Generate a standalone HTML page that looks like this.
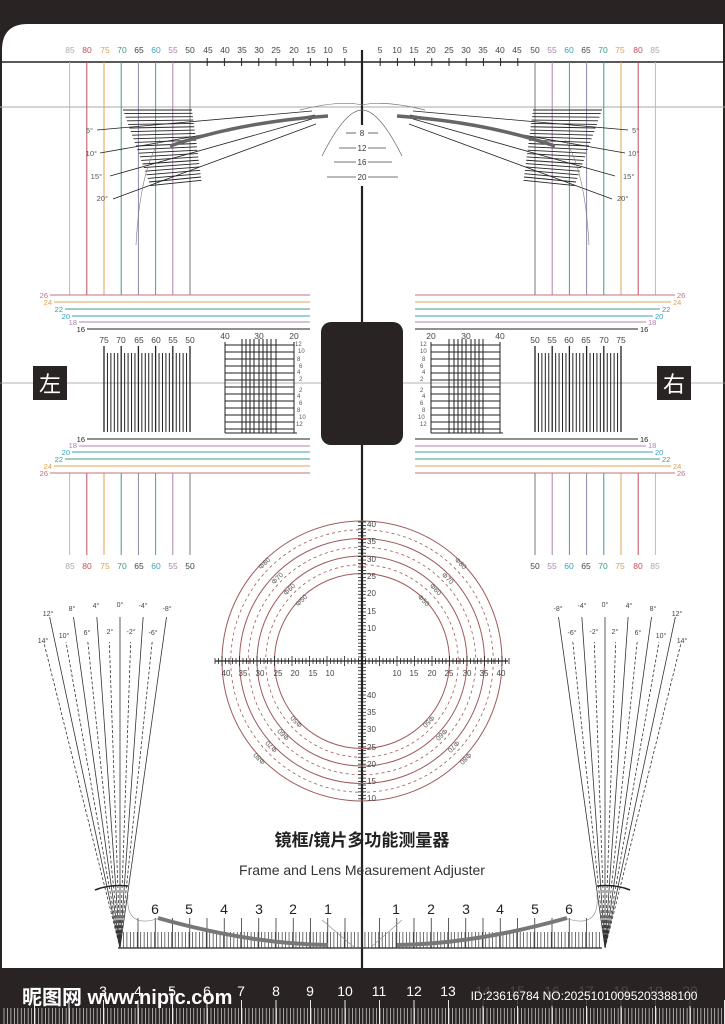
<!DOCTYPE html>
<html><head><meta charset="utf-8"><style>
html,body{margin:0;padding:0;background:#fff}
svg{display:block}
text{font-family:"Liberation Sans","Noto Sans CJK SC",sans-serif}
</style></head><body>
<svg id="s" width="725" height="1024" viewBox="0 0 725 1024" xmlns="http://www.w3.org/2000/svg">
<rect x="0" y="0" width="725" height="1024" fill="#2a2324"/>
<path d="M2 50 Q2 24 28 24 L723 24 L723 968 L2 968 Z" fill="#fff"/>
<g id="g"></g>
<g font-size="8.5" text-anchor="middle" fill="#444">
<text x="70" y="53" fill="#aaa">85</text><text x="87" y="53" fill="#c0505a">80</text><text x="105" y="53" fill="#e0a050">75</text><text x="122" y="53" fill="#3a9a8a">70</text><text x="139" y="53">65</text><text x="156" y="53" fill="#3aa0c0">60</text><text x="173" y="53" fill="#b080b0">55</text><text x="190" y="53">50</text><text x="208" y="53">45</text><text x="225" y="53">40</text><text x="242" y="53">35</text><text x="259" y="53">30</text><text x="276" y="53">25</text><text x="294" y="53">20</text><text x="311" y="53">15</text><text x="328" y="53">10</text><text x="345" y="53">5</text>
<text x="655" y="53" fill="#aaa">85</text><text x="638" y="53" fill="#c0505a">80</text><text x="620" y="53" fill="#e0a050">75</text><text x="603" y="53" fill="#3a9a8a">70</text><text x="586" y="53">65</text><text x="569" y="53" fill="#3aa0c0">60</text><text x="552" y="53" fill="#b080b0">55</text><text x="535" y="53">50</text><text x="517" y="53">45</text><text x="500" y="53">40</text><text x="483" y="53">35</text><text x="466" y="53">30</text><text x="449" y="53">25</text><text x="431" y="53">20</text><text x="414" y="53">15</text><text x="397" y="53">10</text><text x="380" y="53">5</text>
<text x="70" y="569" fill="#aaa">85</text><text x="87" y="569" fill="#c0505a">80</text><text x="105" y="569" fill="#e0a050">75</text><text x="122" y="569" fill="#3a9a8a">70</text><text x="139" y="569">65</text><text x="156" y="569" fill="#3aa0c0">60</text><text x="173" y="569" fill="#b080b0">55</text><text x="190" y="569">50</text>
<text x="655" y="569" fill="#aaa">85</text><text x="638" y="569" fill="#c0505a">80</text><text x="620" y="569" fill="#e0a050">75</text><text x="603" y="569" fill="#3a9a8a">70</text><text x="586" y="569">65</text><text x="569" y="569" fill="#3aa0c0">60</text><text x="552" y="569" fill="#b080b0">55</text><text x="535" y="569">50</text>
<text x="104" y="343">75</text><text x="121" y="343">70</text><text x="139" y="343">65</text><text x="156" y="343">60</text><text x="173" y="343">55</text><text x="190" y="343">50</text>
<text x="621" y="343">75</text><text x="604" y="343">70</text><text x="586" y="343">65</text><text x="569" y="343">60</text><text x="552" y="343">55</text><text x="535" y="343">50</text>
<text x="225" y="339">40</text><text x="259" y="339">30</text><text x="294" y="339">20</text>
<text x="431" y="339">20</text><text x="466" y="339">30</text><text x="500" y="339">40</text>
</g>
<g font-size="7.5" fill="#555" text-anchor="end">
<text x="93" y="133">5°</text><text x="97" y="156">10°</text><text x="102" y="179">15°</text><text x="108" y="201">20°</text>
<text x="48" y="298" fill="#c07080">26</text><text x="52" y="305" fill="#e0a050">24</text><text x="63" y="312" fill="#3a9a8a">22</text><text x="70" y="319" fill="#3aa0c0">20</text><text x="77" y="325" fill="#b080b0">18</text><text x="85" y="332" fill="#222">16</text>
<text x="85" y="442" fill="#222">16</text><text x="77" y="448" fill="#b080b0">18</text><text x="70" y="455" fill="#3aa0c0">20</text><text x="63" y="462" fill="#3a9a8a">22</text><text x="52" y="469" fill="#e0a050">24</text><text x="48" y="476" fill="#c07080">26</text>
</g>
<g font-size="7.5" fill="#555" text-anchor="start">
<text x="632" y="133">5°</text><text x="628" y="156">10°</text><text x="623" y="179">15°</text><text x="617" y="201">20°</text>
<text x="677" y="298" fill="#c07080">26</text><text x="673" y="305" fill="#e0a050">24</text><text x="662" y="312" fill="#3a9a8a">22</text><text x="655" y="319" fill="#3aa0c0">20</text><text x="648" y="325" fill="#b080b0">18</text><text x="640" y="332" fill="#222">16</text>
<text x="640" y="442" fill="#222">16</text><text x="648" y="448" fill="#b080b0">18</text><text x="655" y="455" fill="#3aa0c0">20</text><text x="662" y="462" fill="#3a9a8a">22</text><text x="673" y="469" fill="#e0a050">24</text><text x="677" y="476" fill="#c07080">26</text>
</g>
<g font-size="6" fill="#555">
<text x="295" y="346">12</text><text x="298" y="353">10</text><text x="297" y="361">8</text><text x="299" y="368">6</text><text x="297" y="374">4</text><text x="299" y="381">2</text><text x="299" y="392">2</text><text x="297" y="398">4</text><text x="299" y="405">6</text><text x="297" y="412">8</text><text x="299" y="419">10</text><text x="296" y="426">12</text>
<text x="420" y="346">12</text><text x="420" y="353">10</text><text x="422" y="361">8</text><text x="420" y="368">6</text><text x="422" y="374">4</text><text x="420" y="381">2</text><text x="420" y="392">2</text><text x="422" y="398">4</text><text x="420" y="405">6</text><text x="422" y="412">8</text><text x="418" y="419">10</text><text x="420" y="426">12</text>
</g>
<g font-size="8" fill="#333" text-anchor="middle">
<text x="362" y="136">8</text><text x="362" y="151">12</text><text x="362" y="165">16</text><text x="362" y="180">20</text>
</g>
<g font-size="8" fill="#444" text-anchor="start">
<text x="367" y="527">40</text><text x="367" y="544">35</text><text x="367" y="562">30</text><text x="367" y="579">25</text><text x="367" y="596">20</text><text x="367" y="614">15</text><text x="367" y="631">10</text>
<text x="367" y="698">40</text><text x="367" y="715">35</text><text x="367" y="732">30</text><text x="367" y="750">25</text><text x="367" y="767">20</text><text x="367" y="784">15</text><text x="367" y="801">10</text>
</g>
<g font-size="8" fill="#444" text-anchor="middle">
<text x="226" y="676">40</text><text x="243" y="676">35</text><text x="260" y="676">30</text><text x="278" y="676">25</text><text x="295" y="676">20</text><text x="313" y="676">15</text><text x="330" y="676">10</text>
<text x="397" y="676">10</text><text x="414" y="676">15</text><text x="432" y="676">20</text><text x="449" y="676">25</text><text x="467" y="676">30</text><text x="484" y="676">35</text><text x="501" y="676">40</text>
</g>
<g font-size="7" fill="#555" text-anchor="middle">
<text transform="translate(266,565) rotate(-45)">Φ80</text><text transform="translate(279,580) rotate(-45)">Φ70</text><text transform="translate(291,591) rotate(-45)">Φ60</text><text transform="translate(303,602) rotate(-45)">Φ50</text>
<text transform="translate(459,565) rotate(45)">Φ80</text><text transform="translate(446,580) rotate(45)">Φ70</text><text transform="translate(434,591) rotate(45)">Φ60</text><text transform="translate(422,602) rotate(45)">Φ50</text>
<text transform="translate(298,720) rotate(-135)">Φ50</text><text transform="translate(285,733) rotate(-135)">Φ60</text><text transform="translate(273,745) rotate(-135)">Φ70</text><text transform="translate(261,757) rotate(-135)">Φ80</text>
<text transform="translate(427,720) rotate(135)">Φ50</text><text transform="translate(440,733) rotate(135)">Φ60</text><text transform="translate(452,745) rotate(135)">Φ70</text><text transform="translate(464,757) rotate(135)">Φ80</text>
</g>
<g font-size="7" fill="#444" text-anchor="middle">
<text x="48" y="616">12°</text><text x="72" y="611">8°</text><text x="96" y="608">4°</text><text x="120" y="607">0°</text><text x="143" y="608">-4°</text><text x="167" y="611">-8°</text>
<text x="43" y="643">14°</text><text x="64" y="638">10°</text><text x="87" y="635">6°</text><text x="110" y="634">2°</text><text x="131" y="634">-2°</text><text x="153" y="635">-6°</text>
<text x="677" y="616">12°</text><text x="653" y="611">8°</text><text x="629" y="608">4°</text><text x="605" y="607">0°</text><text x="582" y="608">-4°</text><text x="558" y="611">-8°</text>
<text x="682" y="643">14°</text><text x="661" y="638">10°</text><text x="638" y="635">6°</text><text x="615" y="634">2°</text><text x="594" y="634">-2°</text><text x="572" y="635">-6°</text>
</g>
<g font-size="14" fill="#222" text-anchor="middle">
<text x="155" y="914">6</text><text x="189" y="914">5</text><text x="224" y="914">4</text><text x="259" y="914">3</text><text x="293" y="914">2</text><text x="328" y="914">1</text>
<text x="396" y="914">1</text><text x="431" y="914">2</text><text x="466" y="914">3</text><text x="500" y="914">4</text><text x="535" y="914">5</text><text x="569" y="914">6</text>
</g>
<text x="362" y="846" font-size="17" font-weight="bold" fill="#222" text-anchor="middle">镜框/镜片多功能测量器</text>
<text x="362" y="875" font-size="14" fill="#333" text-anchor="middle">Frame and Lens Measurement Adjuster</text>
<g font-size="14" fill="#fff" text-anchor="middle">
<text x="103" y="996">3</text><text x="138" y="996">4</text><text x="172" y="996">5</text><text x="207" y="996">6</text><text x="241" y="996">7</text><text x="276" y="996">8</text><text x="310" y="996">9</text><text x="345" y="996">10</text><text x="379" y="996">11</text><text x="414" y="996">12</text><text x="448" y="996">13</text><text x="483" y="996">14</text><text x="517" y="996">15</text><text x="552" y="996">16</text><text x="586" y="996">17</text><text x="621" y="996">18</text><text x="655" y="996">19</text><text x="690" y="996">20</text>
</g>
<rect x="455" y="984" width="262" height="22" fill="#2a2324" opacity="0.85"/>
<text x="584" y="1000" font-size="12" fill="#fff" text-anchor="middle">ID:23616784 NO:20251010095203388100</text>
<text x="22" y="1004" font-size="20" font-weight="bold" fill="#fff">昵图网 www.nipic.com</text>
<rect x="33" y="366" width="34" height="34" fill="#2a2324"/><text x="50" y="392" font-size="22" fill="#fff" text-anchor="middle">左</text>
<rect x="657" y="366" width="34" height="34" fill="#2a2324"/><text x="674" y="392" font-size="22" fill="#fff" text-anchor="middle">右</text>
</svg>
<script>
var g=document.getElementById('g'),NS='http://www.w3.org/2000/svg';
function L(x1,y1,x2,y2,c,w,d){var e=document.createElementNS(NS,'line');e.setAttribute('x1',x1);e.setAttribute('y1',y1);e.setAttribute('x2',x2);e.setAttribute('y2',y2);e.setAttribute('stroke',c||'#222');e.setAttribute('stroke-width',w||1);if(d)e.setAttribute('stroke-dasharray',d);g.appendChild(e);}
function P(d,c,w,f,da){var e=document.createElementNS(NS,'path');e.setAttribute('d',d);e.setAttribute('stroke',c);e.setAttribute('stroke-width',w);e.setAttribute('fill',f||'none');if(da)e.setAttribute('stroke-dasharray',da);g.appendChild(e);}
function M(x){return 725-x;}
var cols={85:'#bbb',80:'#c0505a',75:'#e0a050',70:'#3a9a8a',65:'#8a8aaa',60:'#3aa0c0',55:'#b080b0',50:'#777'};
L(0,62,725,62,'#222',1.6);L(0,107,725,107,'#aaa',1);
for(var v=5;v<=45;v+=5){var x=362-v*3.44;L(x,58,x,66,'#222',1);L(M(x),58,M(x),66,'#222',1);}
for(var v=50;v<=85;v+=5){var x=362-v*3.44;L(x,62,x,295,cols[v],1);L(M(x),62,M(x),295,cols[v],1);L(x,473,x,555,cols[v],1);L(M(x),473,M(x),555,cols[v],1);}
L(362,50,362,125,'#222',2.2);L(362,186,362,968,'#222',2.2);
for(var i=0;i<22;i++){var y=110+i*3.6;for(var s=0;s<2;s++){var x1=123+i*1.3,x2=192+i*0.45;var y2=y-i*0.25;if(s)L(M(x1),y,M(x2),y2,'#222',0.9);else L(x1,y,x2,y2,'#222',0.9);}}
var ang=[[97,130,312,111],[100,153,315,115],[110,176,312,119],[113,199,316,124]];
ang.forEach(function(a){L(a[0],a[1],a[2],a[3],'#222',0.8);L(M(a[0]),a[1],M(a[2]),a[3],'#222',0.8);});
P('M170 146 Q240 122 328 116','#666',3.5);P('M'+M(170)+' 146 Q'+M(240)+' 122 '+M(328)+' 116','#666',3.5);
P('M136 245 Q140 170 160 140','#777',0.6);P('M'+M(136)+' 245 Q'+M(140)+' 170 '+M(160)+' 140','#777',0.6);
P('M322 156 Q345 110 362 110 Q379 110 402 156','#666',0.7);
P('M300 110 Q340 100 362 105 Q385 100 425 110','#777',0.7);
[[133,346,378],[148,339,386],[162,334,392],[177,327,398]].forEach(function(a){L(a[1],a[0],356,a[0],'#444',0.8);L(368,a[0],a[2],a[0],'#444',0.8);});
var hc=[['#c07080',295,50],['#e0a050',302,54],['#3a9a8a',309,65],['#3aa0c0',316,72],['#b080b0',322,79],['#222',329,87]];
hc.forEach(function(h){L(h[2],h[1],310,h[1],h[0],1);L(M(h[2]),h[1],M(310),h[1],h[0],1);var y2=768-h[1];L(h[2],y2,310,y2,h[0],1);L(M(h[2]),y2,M(310),y2,h[0],1);});
L(0,383,725,383,'#999',0.8);
var r=document.createElementNS(NS,'rect');r.setAttribute('x',321);r.setAttribute('y',322);r.setAttribute('width',82);r.setAttribute('height',123);r.setAttribute('rx',10);r.setAttribute('fill','#2a2324');g.appendChild(r);
for(var i=0;i<=25;i++){var x=104+i*3.44;var lg=i%5==0;L(x,lg?346:353,x,432,'#222',lg?1.3:1);L(M(x),lg?346:353,M(x),432,'#222',lg?1.3:1);}
function grid(x0,x1){L(x0,342,x0,433,'#222',1);L(x1,342,x1,433,'#222',1);for(var i=0;i<13;i++){var y=345+i*7;L(x0,y,x1,y,'#222',0.9);}
var xs=[242,246,250,254,259,263,267,271,276];xs.forEach(function(x){var xx=x0<362?x:M(x);L(xx,339,xx,433,'#222',1);});L(x0,433,x1+3,433,'#222',1);}
grid(225,294);grid(431,500);
[25,30,35,40].forEach(function(k){var c=document.createElementNS(NS,'circle');c.setAttribute('cx',362);c.setAttribute('cy',661);c.setAttribute('r',k*3.5);c.setAttribute('fill','none');c.setAttribute('stroke','#a05a5a');c.setAttribute('stroke-width',1);g.appendChild(c);});
[27.5,32.5,37.5].forEach(function(k){var c=document.createElementNS(NS,'circle');c.setAttribute('cx',362);c.setAttribute('cy',661);c.setAttribute('r',k*3.5);c.setAttribute('fill','none');c.setAttribute('stroke','#a05a5a');c.setAttribute('stroke-width',0.8);c.setAttribute('stroke-dasharray','3 3');g.appendChild(c);});
L(215,661,508,661,'#222',1.3);
for(var i=-42;i<=42;i++){var x=362+i*3.5;var l=i%5==0?5:3;L(x,661-l,x,661+l,'#222',0.8);}
for(var y=522;y<=800;y+=3.46){L(358,y,366,y,'#222',0.8);}
// fans
function fan(cx,cy,sgn){for(var a=-8;a<=14;a+=2){var t=a*Math.PI/180;var dash=(a%4!=0);var ty=dash?642:617;var dy=cy-ty;var x=cx-sgn*Math.tan(t)*dy;L(cx,cy,x,ty,'#333',0.8,dash?'3 2':null);}}
fan(120,948,1);fan(605,948,-1);
P('M95 890 Q110 884 128 886','#222',1.6);P('M'+M(95)+' 890 Q'+M(110)+' 884 '+M(128)+' 886','#222',1.6);
L(118,948,602,948,'#222',1.2);
for(var x=120;x<=602;x+=3.45){L(x,932,x,948,'#333',0.7);}
for(var x=138;x<=590;x+=17.25){L(x,918,x,948,'#333',0.8);}
P('M158 918 Q250 944 328 945','#777',4);P('M'+M(158)+' 918 Q'+M(250)+' 944 '+M(328)+' 945','#777',4);
P('M128 895 Q125 930 160 918','#888',0.6);P('M'+M(128)+' 895 Q'+M(125)+' 930 '+M(160)+' 918','#888',0.6);
P('M322 920 L355 948 M402 920 L370 948','#888',0.6);
for(var x=4;x<725;x+=3.45){L(x,1008,x,1024,'#ddd',0.7);}
for(var x=34.5;x<725;x+=34.5){L(x,1000,x,1024,'#fff',0.9);}
</script>
</body></html>
